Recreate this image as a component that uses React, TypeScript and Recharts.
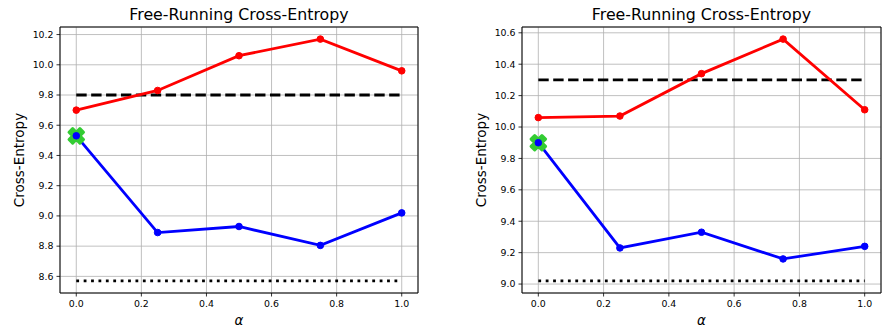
import React from 'react';
import {
  ComposedChart, Line, Scatter, XAxis, YAxis, CartesianGrid, ReferenceArea,
} from 'recharts';

// alpha values on the x axis
const alphas = [0, 0.25, 0.5, 0.75, 1.0];
const xTicks = [0, 0.2, 0.4, 0.6, 0.8, 1.0];

// left panel
const leftRed = [9.70, 9.83, 10.06, 10.17, 9.96];
const leftBlue = [9.53, 8.89, 8.93, 8.805, 9.02];
const leftDashed = 9.80;
const leftDotted = 8.57;
const leftStart = 9.53;
const leftYTicks = [8.6, 8.8, 9.0, 9.2, 9.4, 9.6, 9.8, 10.0, 10.2];

// right panel
const rightRed = [10.06, 10.07, 10.34, 10.56, 10.11];
const rightBlue = [9.90, 9.23, 9.33, 9.16, 9.24];
const rightDashed = 10.30;
const rightDotted = 9.02;
const rightStart = 9.90;
const rightYTicks = [9.0, 9.2, 9.4, 9.6, 9.8, 10.0, 10.2, 10.4, 10.6];

const FONT = '"DejaVu Sans", sans-serif';

// filled "X" marker like matplotlib's
const XMarker = (props: any) => {
  const { cx, cy } = props;
  const s = 14.5;
  const pts = [
    [0.25, 0], [0.5, 0.25], [0.75, 0], [1, 0.25], [0.75, 0.5], [1, 0.75],
    [0.75, 1], [0.5, 0.75], [0.25, 1], [0, 0.75], [0.25, 0.5], [0, 0.25],
  ].map(([u, v]) => `${cx + (u - 0.5) * s},${cy + (v - 0.5) * s}`);
  return (
    <polygon points={pts.join(' ')} fill="#33cc33" stroke="#33cc33" strokeWidth={3} strokeLinejoin="round" />
  );
};

interface PanelProps {
  red: number[];
  blue: number[];
  dashed: number;
  dotted: number;
  start: number;
  yTicks: number[];
  width: number;
  yAxisWidth: number;
  marginRight: number;
}

function Panel({ red, blue, dashed, dotted, start, yTicks, width, yAxisWidth, marginRight }: PanelProps) {
  const redData = alphas.map((a, i) => ({ x: a, y: red[i] }));
  const blueData = alphas.map((a, i) => ({ x: a, y: blue[i] }));
  const dashedData = [{ x: 0, y: dashed }, { x: 1, y: dashed }];
  const dottedData = [{ x: 0, y: dotted }, { x: 1, y: dotted }];
  const startData = [{ x: 0, y: start }];

  // matplotlib-like 5% margins
  const all = [...red, ...blue, dashed, dotted, start];
  const lo = Math.min(...all);
  const hi = Math.max(...all);
  const pad = (hi - lo) * 0.05;
  const yDomain = [lo - pad, hi + pad];

  const plotLeft = yAxisWidth;
  const plotRight = width - marginRight;

  return (
    <div style={{ position: 'relative', width, height: 329 }}>
      <div
        style={{
          position: 'absolute', top: 5, left: plotLeft, width: plotRight - plotLeft,
          textAlign: 'center', fontSize: 15.8, lineHeight: '20px', fontFamily: FONT, color: '#000',
        }}
      >
        Free-Running Cross-Entropy
      </div>
      <ComposedChart
        width={width}
        height={329}
        margin={{ top: 27, right: marginRight, bottom: 0, left: 0 }}
        style={{ fontFamily: FONT }}
      >
        <CartesianGrid stroke="#b0b0b0" strokeWidth={0.8} />
        <XAxis
          type="number"
          dataKey="x"
          domain={[-0.05, 1.05]}
          ticks={xTicks}
          allowDataOverflow
          height={36}
          tickFormatter={(v: number) => v.toFixed(1)}
          tick={{ fill: '#000', fontSize: 9.4 }}
          tickSize={3.5}
          tickMargin={3.5}
          tickLine={{ stroke: '#000', strokeWidth: 0.8 }}
          axisLine={false}
          label={{
            content: (p: any) => {
              const vb = p.viewBox;
              return (
                <text x={vb.x + vb.width / 2} y={vb.y + 27} textAnchor="middle" dominantBaseline="central"
                  fontSize={13.5} fontStyle="italic" fill="#000" fontFamily={FONT}>
                  α
                </text>
              );
            },
          }}
        />
        <YAxis
          type="number"
          dataKey="y"
          domain={yDomain}
          ticks={yTicks}
          allowDataOverflow
          width={yAxisWidth}
          tickFormatter={(v: number) => v.toFixed(1)}
          tick={{ fill: '#000', fontSize: 9.4 }}
          tickSize={3.5}
          tickMargin={3}
          tickLine={{ stroke: '#000', strokeWidth: 0.8 }}
          axisLine={false}
          label={{
            content: (p: any) => {
              const vb = p.viewBox;
              const x = vb.x + vb.width - 41;
              const y = vb.y + vb.height / 2;
              return (
                <text x={x} y={y} transform={`rotate(-90 ${x} ${y})`} textAnchor="middle" dominantBaseline="central"
                  fontSize={13.5} fill="#000" fontFamily={FONT}>
                  Cross-Entropy
                </text>
              );
            },
          }}
        />
        <ReferenceArea
          x1={-0.05} x2={1.05} y1={yDomain[0]} y2={yDomain[1]}
          fill="none" fillOpacity={0} stroke="#000" strokeWidth={1} ifOverflow="visible"
        />
        <Line data={dashedData} dataKey="y" stroke="#000" strokeWidth={2.8} strokeDasharray="10.4 4.5"
          dot={false} activeDot={false} isAnimationActive={false} />
        <Line data={dottedData} dataKey="y" stroke="#000" strokeWidth={2.8} strokeDasharray="2.8 4.6"
          dot={false} activeDot={false} isAnimationActive={false} />
        <Scatter data={startData} dataKey="y" shape={XMarker} isAnimationActive={false} />
        <Line data={redData} dataKey="y" stroke="#ff0000" strokeWidth={2.8}
          dot={{ r: 3.3, fill: '#ff0000', stroke: '#ff0000', strokeWidth: 1 }} activeDot={false} isAnimationActive={false} />
        <Line data={blueData} dataKey="y" stroke="#0000ff" strokeWidth={2.8}
          dot={{ r: 3.3, fill: '#0000ff', stroke: '#0000ff', strokeWidth: 1 }} activeDot={false} isAnimationActive={false} />
      </ComposedChart>
    </div>
  );
}

export default function App() {
  return (
    <div style={{ position: 'fixed', left: 0, top: 0, width: 883, height: 329, background: '#fff', display: 'flex' }}>
      <Panel red={leftRed} blue={leftBlue} dashed={leftDashed} dotted={leftDotted} start={leftStart}
        yTicks={leftYTicks} width={440} yAxisWidth={60} marginRight={22} />
      <Panel red={rightRed} blue={rightBlue} dashed={rightDashed} dotted={rightDotted} start={rightStart}
        yTicks={rightYTicks} width={443} yAxisWidth={82} marginRight={2} />
    </div>
  );
}
